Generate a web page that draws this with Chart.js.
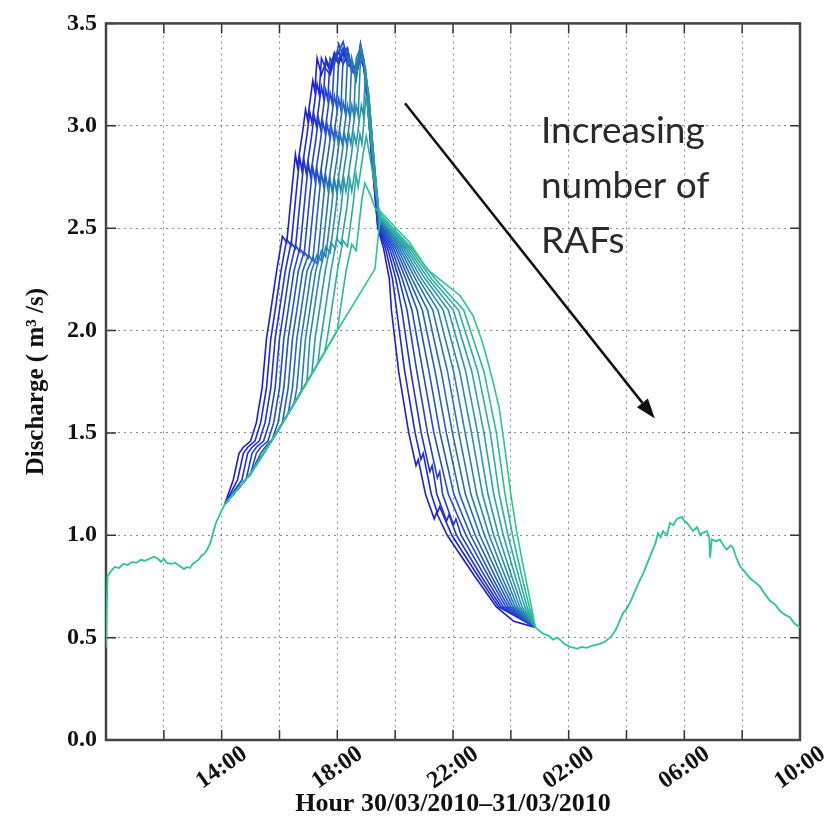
<!DOCTYPE html>
<html>
<head>
<meta charset="utf-8">
<script src="https://cdn.jsdelivr.net/npm/chart.js@4.4.0/dist/chart.umd.min.js"></script>
<style>
  html, body { margin: 0; padding: 0; background: #fff; }
</style>
</head>
<body>
<canvas id="discharge" width="836" height="824"></canvas>
<script>
// x values are hours after 10:00 on 30/03/2010
const hourTicks = ['', '', '14:00', '', '18:00', '', '22:00', '', '02:00', '', '06:00', '', '10:00'];

// common part of the hydrograph, before and after the RAF runs split
const earlyFlow = [[0,0.45],[0.05,0.8],[0.15,0.82],[0.3,0.845],[0.45,0.84],[0.6,0.86],[0.75,0.855],[0.9,0.87],[1.05,0.865],[1.2,0.88],[1.35,0.875],[1.5,0.885],[1.65,0.895],[1.8,0.885],[1.9,0.87],[2.0,0.885],[2.1,0.865],[2.25,0.86],[2.4,0.865],[2.55,0.85],[2.7,0.835],[2.8,0.845],[2.9,0.84],[3.0,0.86],[3.1,0.87],[3.2,0.88],[3.3,0.9],[3.4,0.91],[3.5,0.93],[3.6,0.96],[3.7,1.01],[3.8,1.06],[3.9,1.09],[4.0,1.12],[4.1,1.15]];
const lateFlow = [[14.85,0.55],[15.1,0.52],[15.3,0.51],[15.46,0.49],[15.6,0.5],[15.7,0.49],[15.85,0.47],[16.04,0.455],[16.2,0.45],[16.29,0.445],[16.45,0.455],[16.63,0.45],[16.8,0.46],[17.08,0.47],[17.25,0.48],[17.43,0.5],[17.55,0.52],[17.67,0.55],[17.88,0.62],[18.0,0.64],[18.12,0.67],[18.3,0.73],[18.46,0.78],[18.6,0.82],[18.71,0.86],[18.91,0.93],[19.0,0.96],[19.09,1.01],[19.18,0.99],[19.26,1.02],[19.4,1.0],[19.5,1.06],[19.62,1.05],[19.74,1.08],[19.92,1.09],[20.0,1.07],[20.09,1.06],[20.2,1.04],[20.3,1.02],[20.44,1.04],[20.55,1.0],[20.61,1.01],[20.78,1.02],[20.86,0.99],[20.89,0.89],[20.95,0.98],[21.1,0.97],[21.23,0.98],[21.35,0.95],[21.47,0.93],[21.6,0.95],[21.68,0.94],[21.8,0.89],[21.92,0.85],[22.1,0.82],[22.27,0.79],[22.45,0.77],[22.61,0.75],[22.8,0.71],[22.96,0.68],[23.15,0.66],[23.31,0.63],[23.5,0.61],[23.65,0.6],[23.8,0.57],[24.0,0.55]];

// one run per number of RAFs, fewest first
const raf01 = [[4.1,1.15],[4.4,1.27],[4.6,1.4],[4.75,1.43],[5.0,1.46],[5.2,1.55],[5.4,1.72],[5.55,1.96],[5.7,2.1],[5.9,2.29],[6.1,2.46],[6.25,2.43],[6.45,2.72],[6.55,2.86],[6.62,2.8],[6.8,2.97],[6.9,3.08],[6.97,3.03],[7.15,3.22],[7.22,3.17],[7.3,3.33],[7.45,3.25],[7.6,3.31],[7.75,3.27],[7.9,3.34],[8.05,3.3],[8.2,3.36],[8.35,3.3],[8.5,3.28],[8.65,3.25],[8.8,3.33],[8.92,3.28],[9.05,3.1],[9.2,2.82],[9.4,2.5],[9.6,2.4],[9.8,2.25],[9.87,2.1],[10.12,1.8],[10.47,1.5],[10.72,1.34],[10.8,1.37],[11.05,1.2],[11.35,1.08],[11.43,1.11],[11.8,1.0],[12.75,0.8],[13.5,0.65],[14.1,0.58],[14.85,0.55]];
const raf02 = [[4.1,1.15],[4.55,1.27],[4.75,1.4],[4.9,1.43],[5.15,1.46],[5.35,1.55],[5.55,1.72],[5.7,1.96],[5.85,2.1],[6.05,2.29],[6.25,2.445],[6.4,2.415],[6.6,2.705],[6.7,2.845],[6.77,2.785],[6.95,2.955],[7.05,3.065],[7.12,3.015],[7.3,3.205],[7.37,3.155],[7.45,3.33],[7.6,3.28],[7.75,3.25],[7.9,3.32],[8.05,3.36],[8.2,3.3],[8.35,3.35],[8.5,3.27],[8.65,3.3],[8.8,3.35],[8.92,3.3],[9.05,3.1],[9.2,2.83],[9.4,2.505],[9.67,2.4],[9.91,2.25],[10.05,2.1],[10.33,1.8],[10.69,1.5],[10.89,1.37],[10.97,1.4],[11.25,1.2],[11.46,1.11],[11.54,1.14],[11.96,1.0],[12.87,0.8],[13.58,0.65],[14.85,0.55]];
const raf03 = [[4.1,1.15],[4.7,1.27],[4.9,1.4],[5.05,1.43],[5.3,1.46],[5.5,1.55],[5.7,1.72],[5.85,1.96],[6.0,2.1],[6.2,2.29],[6.4,2.43],[6.55,2.4],[6.75,2.69],[6.85,2.83],[6.92,2.77],[7.1,2.94],[7.2,3.05],[7.27,3.0],[7.45,3.19],[7.52,3.14],[7.6,3.33],[7.75,3.28],[7.9,3.36],[8.05,3.32],[8.2,3.38],[8.35,3.31],[8.5,3.3],[8.65,3.26],[8.8,3.37],[8.92,3.29],[9.05,3.12],[9.2,2.84],[9.41,2.51],[9.74,2.4],[10.03,2.25],[10.23,2.1],[10.54,1.8],[10.9,1.5],[11.2,1.31],[11.28,1.34],[11.44,1.2],[11.78,1.07],[11.86,1.1],[12.12,1.0],[12.98,0.8],[13.66,0.65],[14.85,0.55]];
const raf04 = [[4.1,1.15],[4.85,1.275],[5.05,1.4],[5.2,1.43],[5.45,1.46],[5.65,1.55],[5.85,1.72],[6.0,1.96],[6.15,2.1],[6.35,2.29],[6.55,2.415],[6.7,2.385],[6.9,2.675],[7.0,2.815],[7.07,2.755],[7.25,2.925],[7.35,3.035],[7.42,2.985],[7.6,3.175],[7.67,3.125],[7.75,3.33],[7.9,3.3],[8.05,3.4],[8.2,3.34],[8.35,3.38],[8.5,3.28],[8.65,3.27],[8.8,3.38],[8.92,3.3],[9.06,3.12],[9.21,2.85],[9.41,2.515],[9.81,2.4],[10.14,2.25],[10.41,2.1],[10.75,1.8],[11.12,1.5],[11.46,1.28],[11.54,1.31],[11.64,1.2],[12.02,1.05],[12.1,1.08],[12.28,1.0],[13.1,0.8],[13.74,0.65],[14.85,0.55]];
const raf05 = [[4.1,1.15],[5.0,1.3],[5.2,1.4],[5.35,1.43],[5.6,1.46],[5.8,1.55],[6.0,1.72],[6.15,1.96],[6.3,2.1],[6.5,2.29],[6.7,2.4],[6.85,2.37],[7.05,2.66],[7.15,2.8],[7.22,2.74],[7.4,2.91],[7.5,3.02],[7.57,2.97],[7.75,3.16],[7.82,3.11],[7.9,3.33],[8.05,3.36],[8.2,3.41],[8.35,3.33],[8.5,3.3],[8.65,3.24],[8.8,3.4],[8.92,3.31],[9.06,3.13],[9.21,2.86],[9.42,2.52],[9.88,2.4],[10.25,2.25],[10.58,2.1],[10.96,1.8],[11.34,1.5],[11.84,1.2],[12.45,1.0],[13.22,0.8],[13.83,0.65],[14.85,0.55]];
const raf06 = [[4.1,1.15],[5.0,1.3],[5.35,1.4],[5.5,1.43],[5.75,1.47],[5.95,1.55],[6.15,1.72],[6.3,1.96],[6.45,2.1],[6.65,2.29],[6.85,2.385],[7.0,2.355],[7.2,2.645],[7.3,2.785],[7.37,2.725],[7.55,2.895],[7.65,3.005],[7.72,2.955],[7.9,3.145],[7.97,3.095],[8.05,3.33],[8.2,3.37],[8.35,3.38],[8.5,3.26],[8.65,3.27],[8.8,3.36],[8.92,3.32],[9.07,3.13],[9.22,2.86],[9.42,2.525],[9.95,2.4],[10.37,2.25],[10.76,2.1],[11.17,1.8],[11.55,1.5],[12.03,1.2],[12.61,1.0],[13.33,0.8],[13.91,0.65],[14.85,0.55]];
const raf07 = [[4.1,1.15],[5.0,1.3],[5.9,1.5],[6.1,1.55],[6.3,1.72],[6.45,1.96],[6.6,2.1],[6.8,2.29],[7.0,2.37],[7.15,2.34],[7.35,2.63],[7.45,2.77],[7.52,2.71],[7.7,2.88],[7.8,2.99],[7.87,2.94],[8.05,3.13],[8.12,3.08],[8.2,3.33],[8.35,3.34],[8.5,3.3],[8.65,3.22],[8.8,3.38],[8.92,3.3],[9.07,3.14],[9.22,2.87],[9.43,2.53],[10.02,2.4],[10.48,2.25],[10.94,2.1],[11.38,1.8],[11.77,1.5],[12.23,1.2],[12.77,1.0],[13.45,0.8],[13.99,0.65],[14.85,0.55]];
const raf08 = [[4.1,1.15],[5.0,1.3],[5.9,1.5],[6.3,1.595],[6.45,1.72],[6.6,1.96],[6.75,2.1],[6.95,2.29],[7.15,2.355],[7.3,2.325],[7.5,2.615],[7.6,2.755],[7.67,2.695],[7.85,2.865],[7.95,2.975],[8.02,2.925],[8.2,3.115],[8.27,3.065],[8.35,3.33],[8.5,3.28],[8.65,3.26],[8.8,3.4],[8.92,3.32],[9.08,3.14],[9.23,2.87],[9.43,2.535],[10.09,2.4],[10.59,2.25],[11.12,2.1],[11.59,1.8],[11.98,1.5],[12.43,1.2],[12.93,1.0],[13.57,0.8],[14.07,0.65],[14.85,0.55]];
const raf09 = [[4.1,1.15],[5.0,1.3],[5.9,1.5],[6.5,1.64],[6.6,1.72],[6.75,1.96],[6.9,2.1],[7.1,2.29],[7.3,2.37],[7.45,2.34],[7.65,2.6],[7.75,2.74],[7.82,2.68],[8.0,2.85],[8.1,2.96],[8.17,2.91],[8.35,3.1],[8.42,3.05],[8.5,3.33],[8.65,3.24],[8.8,3.37],[8.92,3.31],[9.08,3.15],[9.23,2.88],[9.44,2.54],[10.16,2.4],[10.71,2.25],[11.3,2.1],[11.81,1.8],[12.2,1.5],[12.62,1.2],[13.09,1.0],[13.68,0.8],[14.15,0.65],[14.85,0.55]];
const raf10 = [[4.1,1.15],[5.0,1.3],[5.9,1.5],[6.75,1.7],[6.9,1.96],[7.05,2.1],[7.25,2.29],[7.45,2.39],[7.6,2.36],[7.8,2.6],[7.9,2.74],[7.97,2.68],[8.15,2.85],[8.25,2.96],[8.32,2.91],[8.5,3.1],[8.57,3.05],[8.65,3.33],[8.8,3.38],[8.92,3.3],[9.09,3.15],[9.24,2.88],[9.44,2.545],[10.23,2.4],[10.82,2.25],[11.48,2.1],[12.02,1.8],[12.42,1.5],[12.82,1.2],[13.25,1.0],[13.8,0.8],[14.23,0.65],[14.85,0.55]];
const raf11 = [[4.1,1.15],[5.0,1.3],[5.9,1.5],[6.95,1.75],[7.05,1.96],[7.2,2.1],[7.4,2.29],[7.6,2.41],[7.75,2.38],[7.95,2.6],[8.05,2.74],[8.12,2.68],[8.3,2.85],[8.4,2.96],[8.47,2.91],[8.65,3.1],[8.72,3.05],[8.8,3.33],[8.92,3.31],[9.09,3.14],[9.24,2.88],[9.45,2.55],[10.3,2.4],[10.93,2.25],[11.66,2.1],[12.23,1.8],[12.64,1.5],[13.02,1.2],[13.41,1.0],[13.92,0.8],[14.31,0.65],[14.85,0.55]];
const raf12 = [[4.1,1.15],[5.0,1.3],[5.9,1.5],[7.0,1.76],[7.12,1.79],[7.23,1.96],[7.38,2.1],[7.58,2.29],[7.78,2.43],[7.93,2.4],[8.13,2.6],[8.23,2.74],[8.3,2.68],[8.48,2.85],[8.58,2.96],[8.65,2.91],[8.83,3.1],[8.9,3.05],[8.98,3.28],[9.1,3.08],[9.25,2.85],[9.45,2.55],[10.37,2.4],[11.05,2.25],[11.84,2.1],[12.44,1.8],[12.85,1.5],[13.21,1.2],[13.57,1.0],[14.03,0.8],[14.39,0.65],[14.85,0.55]];
const raf13 = [[4.1,1.15],[5.0,1.3],[5.9,1.5],[7.0,1.76],[7.33,1.84],[7.43,1.96],[7.58,2.1],[7.78,2.29],[7.98,2.45],[8.13,2.42],[8.33,2.6],[8.43,2.74],[8.5,2.68],[8.68,2.85],[8.78,2.96],[8.85,2.91],[9.0,3.15],[9.12,2.98],[9.26,2.8],[9.46,2.56],[10.44,2.4],[11.16,2.25],[12.01,2.1],[12.65,1.8],[13.07,1.5],[13.41,1.2],[13.74,1.0],[14.15,0.8],[14.48,0.65],[14.85,0.55]];
const raf14 = [[4.1,1.15],[5.0,1.3],[5.9,1.5],[7.0,1.76],[7.55,1.89],[7.65,1.96],[7.8,2.1],[8.0,2.29],[8.2,2.44],[8.35,2.41],[8.55,2.62],[8.65,2.76],[8.72,2.7],[8.9,2.87],[9.0,2.95],[9.14,2.84],[9.28,2.72],[9.46,2.56],[10.51,2.4],[11.27,2.25],[12.19,2.1],[12.86,1.8],[13.29,1.5],[13.6,1.2],[13.9,1.0],[14.27,0.8],[14.56,0.65],[14.85,0.55]];
const raf15 = [[4.1,1.15],[5.0,1.3],[5.9,1.5],[7.0,1.76],[8.0,2.0],[8.1,2.1],[8.3,2.29],[8.5,2.42],[8.65,2.39],[8.85,2.64],[8.95,2.72],[9.15,2.66],[9.3,2.6],[9.48,2.57],[10.58,2.4],[11.39,2.25],[12.37,2.1],[13.07,1.8],[13.5,1.5],[13.8,1.2],[14.06,1.0],[14.38,0.8],[14.64,0.65],[14.85,0.55]];
const raf16 = [[4.1,1.15],[5.0,1.3],[5.9,1.5],[7.0,1.76],[8.0,2.0],[9.3,2.3],[9.5,2.58],[9.9,2.52],[10.5,2.43],[11.1,2.3],[11.8,2.22],[12.25,2.17],[12.7,2.07],[13.0,1.95],[13.2,1.85],[13.4,1.74],[13.6,1.62],[13.8,1.42],[14.0,1.2],[14.2,1.02],[14.4,0.87],[14.6,0.73],[14.85,0.55]];

const rafRuns = [raf01, raf02, raf03, raf04, raf05, raf06, raf07, raf08,
                 raf09, raf10, raf11, raf12, raf13, raf14, raf15, raf16];

// annotation, in data coordinates
const arrowFrom = [10.34, 3.11];
const arrowTo = [18.98, 1.57];
const noteAt = [15.04, 2.914];
const noteLines = ['Increasing', 'number of', 'RAFs'];

const serif = "'Liberation Serif', 'Times New Roman', serif";
const blueEnd = [28, 28, 225];
const greenEnd = [44, 196, 150];

function runColour(i, n) {
  const f = i / (n - 1);
  const c = blueEnd.map((b, j) => Math.round(b + (greenEnd[j] - b) * f));
  return `rgb(${c[0]},${c[1]},${c[2]})`;
}
const toPoints = arr => arr.map(p => ({x: p[0], y: p[1]}));

const datasets = rafRuns.map((run, i) => ({
  data: toPoints(run),
  borderColor: runColour(i, rafRuns.length),
  borderWidth: 1.6,
  order: rafRuns.length - i
}));
[earlyFlow, lateFlow].forEach(part => datasets.push({
  data: toPoints(part),
  borderColor: runColour(1, 2),
  borderWidth: 1.8,
  order: 0
}));

const frame = {
  id: 'frame',
  beforeDatasetsDraw(chart) {
    const {ctx, chartArea: a, scales: {x, y}} = chart;
    ctx.save();
    ctx.strokeStyle = '#333';
    ctx.lineWidth = 1.5;
    ctx.beginPath();
    x.ticks.forEach(t => {
      const px = x.getPixelForValue(t.value);
      ctx.moveTo(px, a.bottom); ctx.lineTo(px, a.bottom - 10);
      ctx.moveTo(px, a.top); ctx.lineTo(px, a.top + 10);
    });
    y.ticks.forEach(t => {
      const py = y.getPixelForValue(t.value);
      ctx.moveTo(a.left, py); ctx.lineTo(a.left + 10, py);
      ctx.moveTo(a.right, py); ctx.lineTo(a.right - 10, py);
    });
    ctx.stroke();
    ctx.strokeStyle = '#444';
    ctx.lineWidth = 2.5;
    ctx.strokeRect(a.left, a.top, a.right - a.left, a.bottom - a.top);
    ctx.restore();
  },
  afterDatasetsDraw(chart) {
    const {ctx, scales: {x, y}} = chart;
    const x1 = x.getPixelForValue(arrowFrom[0]), y1 = y.getPixelForValue(arrowFrom[1]);
    const x2 = x.getPixelForValue(arrowTo[0]), y2 = y.getPixelForValue(arrowTo[1]);
    const ang = Math.atan2(y2 - y1, x2 - x1);
    const head = 20, half = 7;
    ctx.save();
    ctx.strokeStyle = '#111';
    ctx.fillStyle = '#111';
    ctx.lineWidth = 2.5;
    ctx.beginPath();
    ctx.moveTo(x1, y1);
    ctx.lineTo(x2 - head * Math.cos(ang), y2 - head * Math.sin(ang));
    ctx.stroke();
    ctx.beginPath();
    ctx.moveTo(x2, y2);
    ctx.lineTo(x2 - head * Math.cos(ang) + half * Math.sin(ang), y2 - head * Math.sin(ang) - half * Math.cos(ang));
    ctx.lineTo(x2 - head * Math.cos(ang) - half * Math.sin(ang), y2 - head * Math.sin(ang) + half * Math.cos(ang));
    ctx.closePath();
    ctx.fill();

    ctx.font = "37px Lato, 'Open Sans', sans-serif";
    ctx.fillStyle = '#2a2a2a';
    ctx.textAlign = 'left';
    ctx.textBaseline = 'alphabetic';
    const tx = x.getPixelForValue(noteAt[0]);
    const ty = y.getPixelForValue(noteAt[1]);
    noteLines.forEach((line, i) => ctx.fillText(line, tx, ty + i * 55));
    ctx.restore();
  }
};

new Chart(document.getElementById('discharge'), {
  type: 'line',
  data: { datasets },
  options: {
    responsive: false,
    animation: false,
    devicePixelRatio: 1,
    layout: { padding: { top: 23, right: 36, bottom: 0, left: 0 } },
    elements: {
      point: { radius: 0, hoverRadius: 0 },
      line: { tension: 0, fill: false }
    },
    plugins: {
      legend: { display: false },
      tooltip: { enabled: false }
    },
    scales: {
      x: {
        type: 'linear',
        min: 0,
        max: 24,
        afterFit: s => { s.height = 84; },
        ticks: {
          stepSize: 2,
          autoSkip: false,
          minRotation: 35,
          maxRotation: 35,
          padding: 0,
          labelOffset: 23,
          color: '#111',
          font: { family: serif, size: 24, weight: 'bold' },
          callback: (v, i) => hourTicks[i]
        },
        grid: { color: 'rgba(110,110,110,0.8)', lineWidth: 1, drawTicks: false },
        border: { display: false, dash: [2, 4] },
        title: {
          display: true,
          text: 'Hour 30/03/2010–31/03/2010',
          color: '#111',
          font: { family: serif, size: 26, weight: 'bold' },
          padding: { top: 0, bottom: 4 }
        }
      },
      y: {
        min: 0,
        max: 3.5,
        afterFit: s => { s.width = 106; },
        ticks: {
          stepSize: 0.5,
          padding: 9,
          color: '#111',
          font: { family: serif, size: 24, weight: 'bold' },
          callback: v => v.toFixed(1)
        },
        grid: { color: 'rgba(110,110,110,0.8)', lineWidth: 1, drawTicks: false },
        border: { display: false, dash: [2, 4] },
        title: {
          display: true,
          text: 'Discharge ( m³ /s)',
          color: '#111',
          font: { family: serif, size: 25, weight: 'bold' },
          padding: { top: 22, bottom: 0 }
        }
      }
    }
  },
  plugins: [frame]
});
</script>
</body>
</html>
